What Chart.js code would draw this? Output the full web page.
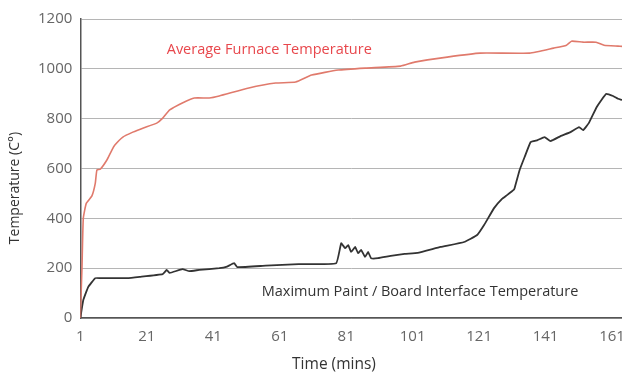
<!DOCTYPE html>
<html>
<head>
<meta charset="utf-8">
<script src="https://cdn.jsdelivr.net/npm/chart.js@4/dist/chart.umd.min.js"></script>
<style>
html,body{margin:0;padding:0;background:#fff;}
#wrap{width:622px;height:374px;position:relative;}
</style>
</head>
<body>
<div id="wrap"><canvas id="c" width="622" height="374"></canvas></div>
<script>
const furnaceMinutes = [1, 1.5, 1.9, 2.8, 4.5, 5.5, 6, 7, 9, 10.5, 11.4, 13.8, 16.8, 19.8, 24, 25.8, 27.9, 31.7, 35.3, 39.8, 42.8, 51.7, 59.8, 65.8, 70.6, 78.6, 86.7, 97.4, 101.6, 111.4, 121.3, 136.2, 143.4, 147.3, 148.8, 152.3, 156.2, 158.6, 162.8, 164];
const furnaceTemps = [0, 200, 400, 460, 490, 540, 594, 597, 634, 674, 694, 726, 746, 762, 782, 802, 835, 863, 883, 883, 891, 923, 943, 947, 975, 995, 1003, 1011, 1027, 1047, 1063, 1063, 1083, 1095, 1111, 1107, 1107, 1095, 1091, 1090];

const paintMinutes = [1, 1.9, 3.4, 5.5, 7, 15, 18.9, 25.8, 27, 27.9, 31.7, 33.8, 36.8, 42.8, 44.9, 47.3, 48.2, 56.8, 66.7, 78, 79.5, 80.7, 81.6, 82.5, 83.7, 84.6, 85.5, 86.7, 87.6, 88.5, 90.6, 94.4, 98.6, 102.5, 109.4, 116.5, 120.4, 122.5, 125.5, 127.9, 129.4, 131.4, 131.7, 133.2, 134.7, 136.5, 138.6, 140.7, 142.5, 145.5, 148.5, 151.1, 152.3, 154, 156.4, 159.2, 161.3, 162.8, 164];
const paintTemps = [0, 72, 125, 160, 160, 160, 165, 176, 193, 181, 196, 188, 193, 200, 205, 220, 204, 210, 216, 220, 300, 280, 293, 265, 285, 260, 273, 245, 265, 240, 240, 249, 257, 261, 285, 305, 333, 373, 441, 478, 493, 514, 522, 594, 646, 706, 714, 726, 710, 730, 746, 766, 754, 782, 847, 899, 891, 880, 875];

const xTickLabels = [1, 21, 41, 61, 81, 101, 121, 141, 161];
const yTickLabels = [0, 200, 400, 600, 800, 1000, 1200];

const seriesNames = ["Average Furnace Temperature", "Maximum Paint / Board Interface Temperature"];
const xTitle = "Time (mins)";
const yTitle = "Temperature (C°)";

const FONT = "'Open Sans', Lato, sans-serif";

const textPlugin = {
  id: 'textLabels',
  afterDatasetsDraw(chart) {
    const {ctx, scales: {x, y}} = chart;
    ctx.save();
    ctx.font = "14.5px " + FONT;
    ctx.textBaseline = 'middle';
    ctx.textAlign = 'left';
    ctx.fillStyle = '#e8474c';
    ctx.fillText(seriesNames[0], x.getPixelForValue(27), y.getPixelForValue(1075));
    ctx.fillStyle = '#333333';
    ctx.fillText(seriesNames[1], x.getPixelForValue(55.6), y.getPixelForValue(104));
    // axis titles
    ctx.fillStyle = '#333333';
    ctx.textAlign = 'center';
    ctx.font = "15.5px " + FONT;
    ctx.fillText(xTitle, 334, 365);
    ctx.font = "14px " + FONT;
    ctx.translate(15, 188);
    ctx.rotate(-Math.PI / 2);
    ctx.fillText(yTitle, 0, 0);
    ctx.restore();
  }
};

new Chart(document.getElementById('c'), {
  type: 'line',
  data: {
    datasets: [
      {
        label: seriesNames[0],
        data: furnaceMinutes.map((m, i) => ({x: m, y: furnaceTemps[i]})),
        borderColor: '#e07a6c',
        borderWidth: 1.6,
        pointRadius: 0,
        tension: 0.15,
        fill: false
      },
      {
        label: seriesNames[1],
        data: paintMinutes.map((m, i) => ({x: m, y: paintTemps[i]})),
        borderColor: '#333333',
        borderWidth: 1.8,
        pointRadius: 0,
        tension: 0.1,
        fill: false
      }
    ]
  },
  options: {
    responsive: false,
    animation: false,
    devicePixelRatio: 1,
    layout: {padding: {left: 38, right: 0, top: 19, bottom: 28}},
    plugins: {legend: {display: false}, tooltip: {enabled: false}},
    scales: {
      x: {
        type: 'linear',
        min: 1,
        max: 164,
        afterBuildTicks: (scale) => { scale.ticks = xTickLabels.map(v => ({value: v})); },
        afterFit: (scale) => { scale.paddingRight = 0; },
        grid: {display: true, color: 'rgba(0,0,0,0)', drawOnChartArea: false, drawTicks: true, tickLength: 10, tickColor: 'rgba(0,0,0,0)'},
        border: {display: true, color: '#555555', width: 1.5},
        ticks: {color: '#666666', font: {family: FONT, size: 15}, padding: 0, autoSkip: false, maxRotation: 0}
      },
      y: {
        min: 0,
        max: 1200,
        afterBuildTicks: (scale) => { scale.ticks = yTickLabels.map(v => ({value: v})); },
        grid: {color: '#b5b5b5', lineWidth: 1, drawTicks: true, tickLength: 8, tickColor: 'rgba(0,0,0,0)'},
        border: {display: true, color: '#555555', width: 1.5},
        ticks: {color: '#666666', font: {family: FONT, size: 15}, padding: 0, callback: (v) => String(v)}
      }
    }
  },
  plugins: [textPlugin]
});
</script>
</body>
</html>
